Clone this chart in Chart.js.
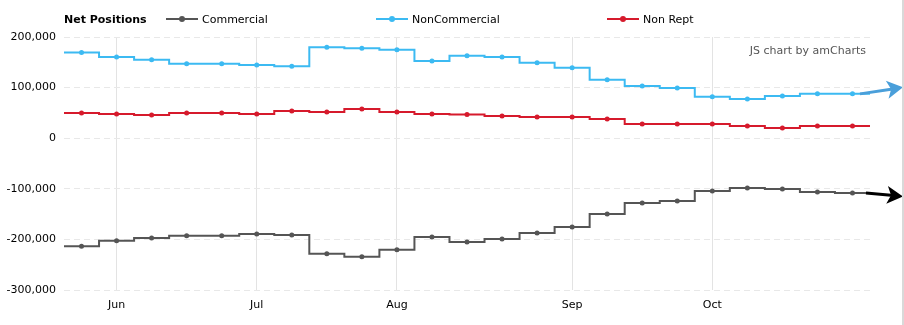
<!DOCTYPE html>
<html>
<head>
<meta charset="utf-8">
<script src="https://cdn.jsdelivr.net/npm/chart.js@4.4.0/dist/chart.umd.min.js"></script>
<style>
  body { margin: 0; background: #fff; font-family: 'DejaVu Sans', Verdana, sans-serif; }
  #wrap { position: relative; width: 904px; height: 325px; overflow: hidden; }
  #wrap canvas { position: absolute; left: 0; top: 0; }
  .edge { position: absolute; right: 0; top: 0; width: 2px; height: 325px; background: #d9d9d9; }
  .lg-title { position: absolute; left: 64px; top: 13px; font-size: 11px; font-weight: bold; color: #000; }
  .lg-item { position: absolute; top: 13px; font-size: 11px; color: #000; white-space: nowrap; }
  .lg-item .mk { display: inline-block; position: relative; width: 32px; height: 2px; vertical-align: middle; margin: -2px 4px 0 0; }
  .lg-item .mk i { position: absolute; left: 13px; top: -2px; width: 6px; height: 6px; border-radius: 50%; }
</style>
</head>
<body>
<div id="wrap">
  <canvas id="chart" width="904" height="325"></canvas>
  <div class="lg-title">Net Positions</div>
  <div id="legend"></div>
  <div class="edge"></div>
</div>
<script>
// weekly report dates
const weeks = [
  '2017-05-30', '2017-06-06', '2017-06-13', '2017-06-20', '2017-06-27',
  '2017-07-04', '2017-07-11', '2017-07-18', '2017-07-25', '2017-08-01',
  '2017-08-08', '2017-08-15', '2017-08-22', '2017-08-29', '2017-09-05',
  '2017-09-12', '2017-09-19', '2017-09-26', '2017-10-03', '2017-10-10',
  '2017-10-17', '2017-10-24', '2017-10-31'
];
const monthNames = ['Jan', 'Feb', 'Mar', 'Apr', 'May', 'Jun', 'Jul', 'Aug', 'Sep', 'Oct', 'Nov', 'Dec'];

const seriesNames = ['Commercial', 'NonCommercial', 'Non Rept'];
const seriesColors = ['#555555', '#3cbaf2', '#d61a2c'];

const commercial = [
  -213400, -202900, -197000, -193000, -193000, -189100, -191100, -228600,
  -234500, -220700, -195100, -204900, -199000, -187200, -175300, -149600,
  -127900, -123900, -104200, -98200, -100200, -106100, -108100
];
const nonCommercial = [
  169400, 160700, 154800, 146900, 146900, 144900, 142300, 179800,
  177900, 174600, 152800, 162700, 160700, 148900, 139000, 115300,
  103400, 99400, 81700, 77700, 83600, 87600, 87600
];
const nonRept = [
  50000, 48000, 46000, 50000, 50000, 48000, 54000, 52000,
  57900, 52000, 48000, 46800, 44100, 42100, 42100, 38100,
  28300, 28300, 28300, 24300, 20400, 24300, 24300
];

const yMin = -300000, yMax = 200000, yStep = 100000;

// legend
const legendLeft = [166, 376, 607];
document.getElementById('legend').innerHTML = seriesNames.map((n, i) =>
  `<div class="lg-item" style="left:${legendLeft[i]}px">` +
  `<span class="mk" style="background:${seriesColors[i]}"><i style="background:${seriesColors[i]}"></i></span>${n}</div>`
).join('');

function monthLabel(i) {
  if (i === 0) return '';
  const m = Number(weeks[i].slice(5, 7));
  const pm = Number(weeks[i - 1].slice(5, 7));
  return m !== pm ? monthNames[m - 1] : '';
}

// amCharts draws the step line out to the plot edges
const edgeSteps = {
  id: 'edgeSteps',
  beforeDatasetDraw(chart, args) {
    const pts = args.meta.data;
    if (!pts.length) return;
    const ds = chart.data.datasets[args.index];
    const { left, right } = chart.chartArea;
    const first = pts[0], last = pts[pts.length - 1];
    const ctx = chart.ctx;
    ctx.save();
    ctx.strokeStyle = ds.borderColor;
    ctx.lineWidth = ds.borderWidth;
    ctx.beginPath();
    ctx.moveTo(left, first.y); ctx.lineTo(first.x, first.y);
    ctx.moveTo(last.x, last.y); ctx.lineTo(right, last.y);
    ctx.stroke();
    ctx.restore();
  }
};

// the hand-drawn arrows pointing out of the right edge
const arrows = [
  { series: 1, color: '#4a9fda', startBack: 10, rise: -6.5 },
  { series: 0, color: '#000000', startBack: 4, rise: 3.5 }
];
const arrowPlugin = {
  id: 'arrowPlugin',
  afterDraw(chart) {
    const ctx = chart.ctx;
    arrows.forEach(a => {
      const pts = chart.getDatasetMeta(a.series).data;
      const y0 = pts[pts.length - 1].y;
      const x0 = chart.chartArea.right - a.startBack;
      const tx = chart.width - 1, ty = y0 + a.rise;
      const dx = tx - x0, dy = ty - y0, len = Math.hypot(dx, dy);
      const ux = dx / len, uy = dy / len, nx = -uy, ny = ux;
      const head = 16, half = 9, notch = 4;
      const bx = tx - ux * head, by = ty - uy * head;
      ctx.save();
      ctx.strokeStyle = a.color;
      ctx.fillStyle = a.color;
      ctx.lineWidth = 3;
      ctx.beginPath();
      ctx.moveTo(x0, y0);
      ctx.lineTo(bx + ux * notch, by + uy * notch);
      ctx.stroke();
      ctx.beginPath();
      ctx.moveTo(tx, ty);
      ctx.lineTo(bx + nx * half, by + ny * half);
      ctx.lineTo(bx + ux * notch, by + uy * notch);
      ctx.lineTo(bx - nx * half, by - ny * half);
      ctx.closePath();
      ctx.fill();
      ctx.restore();
    });
  }
};

const tickFont = { family: "'DejaVu Sans', Verdana, sans-serif", size: 11 };
const series = [commercial, nonCommercial, nonRept];

new Chart(document.getElementById('chart'), {
  type: 'line',
  data: {
    labels: weeks,
    datasets: series.map((d, i) => ({
      label: seriesNames[i],
      data: d,
      borderColor: seriesColors[i],
      backgroundColor: seriesColors[i],
      borderWidth: 2,
      stepped: 'middle',
      pointRadius: 2.5,
      pointBorderWidth: 0,
      pointHoverRadius: 3,
      fill: false,
    })),
  },
  options: {
    responsive: false,
    animation: false,
    layout: { padding: { top: 37, right: 34, left: 4, bottom: 0 } },
    plugins: {
      legend: { display: false },
      tooltip: { enabled: false },
    },
    scales: {
      x: {
        type: 'category',
        offset: true,
        border: { display: false },
        grid: {
          offset: false,
          drawTicks: false,
          color: ctx => (ctx.tick && monthLabel(ctx.index) ? '#e3e3e3' : 'rgba(0,0,0,0)'),
        },
        ticks: {
          autoSkip: false,
          maxRotation: 0,
          padding: 9,
          color: '#000',
          font: tickFont,
          callback: (v, i) => monthLabel(i),
        },
        afterFit: s => { s.height = 35; },
      },
      y: {
        min: yMin,
        max: yMax,
        border: { display: false, dash: [6, 4] },
        grid: { drawTicks: false, color: '#e8e8e8' },
        ticks: {
          stepSize: yStep,
          padding: 8,
          color: '#000',
          font: tickFont,
          callback: v => v.toLocaleString('en-US'),
        },
        afterFit: s => { s.width = 60; },
      },
    },
  },
  plugins: [edgeSteps, arrowPlugin, {
    id: 'credit',
    afterDraw(chart) {
      const ctx = chart.ctx;
      ctx.save();
      ctx.font = "11px 'DejaVu Sans', Verdana, sans-serif";
      ctx.fillStyle = '#555';
      ctx.textAlign = 'right';
      ctx.textBaseline = 'middle';
      ctx.fillText('JS chart by amCharts', chart.chartArea.right - 4, 51);
      ctx.restore();
    }
  }],
});
</script>
</body>
</html>
